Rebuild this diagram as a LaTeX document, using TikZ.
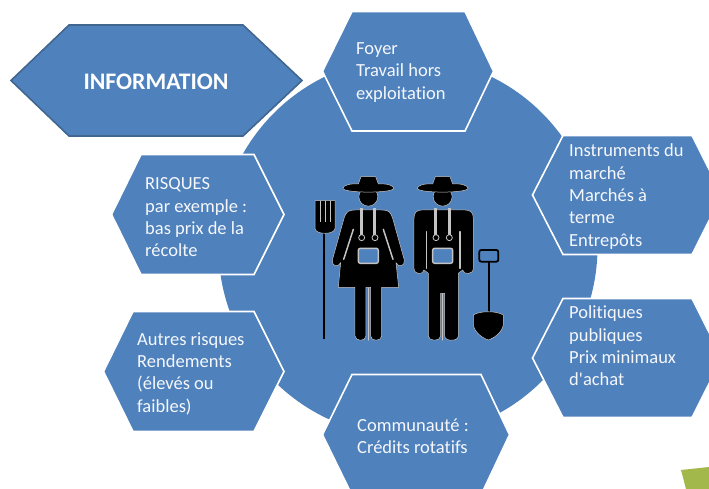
\documentclass[tikz,border=0pt]{standalone}
\usepackage{fontspec}
\setmainfont[Ligatures=NoCommon]{Carlito}
\definecolor{hexblue}{HTML}{4F81BD}
\definecolor{hexdark}{HTML}{41668F}
\definecolor{leafgreen}{HTML}{A3B84B}
\definecolor{halo}{HTML}{C4C4C4}
\tikzset{
	hexlabel/.style={anchor=west, align=left, inner sep=0pt, text=white!94!hexblue, font=\fontsize{18.5}{22.3}\selectfont},
	hexcut/.style={fill=hexblue, draw=white, line width=1.6pt, line join=miter},
	figure/.style={fill=black, draw=halo, line width=0.5pt, line join=round},
	slit/.style={draw=halo, line width=1.5pt, line cap=round}
}
\begin{document}
\begin{tikzpicture}[x=1pt, y=-1pt]

		\useasboundingbox (0,0) rectangle (709,489);
		\clip (0,0) rectangle (709,489);

		\fill[hexblue] (408,247) circle [radius=189.5pt];

		% left tip / inner left / inner right / right tip / top / bottom
		\foreach \a / \b / \c / \d / \t / \u in {322.5/352/465/493.5/11.5/131, 532.5/563/692/722/135.5/254.5, 532.5/563/692/722/298.5/417.5, 322.5/352/481/509.5/374.5/495, 111.5/141/254/284/154.5/274.5, 103.5/133/254/284/311.5/431.5} {
		\draw[hexcut] (\a,{(\t+\u)/2}) -- (\b,\t) -- (\c,\t) -- (\d,{(\t+\u)/2}) -- (\c,\u) -- (\b,\u) -- cycle;
		}

		\draw[fill=hexblue, draw=hexdark, line width=1.6pt] (11,80.5) -- (69,25) -- (243,25) -- (302,80.5) -- (243,136) -- (69,136) -- cycle;

		\node[text=white, font=\fontsize{23.7}{26}\bfseries] (information) at (156,82) {INFORMATION};
		\node[hexlabel] (foyer) at (356,72.5) {Foyer\\Travail hors\\exploitation};
		\node[hexlabel] (marche) at (569,196.5) {Instruments du\\marché\\Marchés à\\terme\\Entrepôts};
		\node[hexlabel] (politiques) at (569,346) {Politiques\\publiques\\Prix minimaux\\d\textquotesingle achat};
		\node[hexlabel] (communaute) at (357,436.5) {Communauté :\\Crédits rotatifs};
		\node[hexlabel] (risques) at (145,217.5) {RISQUES\\par exemple :\\bas prix de la\\récolte};
		\node[hexlabel] (autres) at (137,373.5) {Autres risques\\Rendements\\(élevés ou\\faibles)};

		\fill[leafgreen] (681,470) -- (709,467) -- (709,489) -- (686,489) -- cycle;

		\begin{scope}[shift={(300,160)}, x=0.3333pt, y=-0.3333pt]

		% hats and heads
		\foreach \x in {205,428} {
		\draw[figure] (\x,110) circle [radius=9.5pt];
		\draw[figure] (\x-30,72) -- (\x-22,50) -- (\x+22,50) -- (\x+30,72) .. controls (\x+55,70) and (\x+76,76) .. (\x+76,85) .. controls (\x+76,100) and (\x-76,100) .. (\x-76,85) .. controls (\x-76,76) and (\x-55,70) .. (\x-30,72) -- cycle;
		}

		% woman
		\draw[figure] (165,150) -- (245,150) .. controls (265,150) and (272,155) .. (278,175) -- (313,300) .. controls (316,318) and (296,325) .. (288,308) -- (296,382) -- (245,382) -- (245,528) .. controls (245,545) and (212,545) .. (212,528) -- (212,382) -- (198,382) -- (198,528) .. controls (198,545) and (165,545) .. (165,528) -- (165,382) -- (115,382) -- (122,308) .. controls (114,325) and (94,318) .. (97,300) -- (132,175) .. controls (138,155) and (145,150) .. (165,150) -- cycle;
		\draw[slit] (160,208) -- (131,298);
		\draw[slit] (250,208) -- (279,298);
		\draw[slit] (205,385) -- (205,540);

		% man
		\draw[figure] (365,150) -- (495,150) .. controls (512,150) and (520,158) .. (520,175) -- (520,325) .. controls (520,345) and (490,345) .. (488,330) -- (475,340) -- (475,528) .. controls (475,545) and (434,545) .. (434,528) -- (434,400) -- (422,400) -- (422,528) .. controls (422,545) and (385,545) .. (385,528) -- (385,340) -- (372,330) .. controls (370,345) and (342,345) .. (342,325) -- (342,175) .. controls (342,158) and (350,150) .. (365,150) -- cycle;
		\draw[slit] (379,215) -- (379,325);
		\draw[slit] (480,215) -- (480,325);
		\draw[slit] (428,402) -- (428,540);

		% bibs and straps
		\foreach \x / \y in {185/225, 408/448} {
		\draw[draw=halo, line width=3pt] (\x,145) -- (\x,225);
		\draw[draw=halo, line width=3pt] (\y,145) -- (\y,225);
		\draw[draw=halo, fill=black, line width=0.8pt] (\x,233) circle [radius=3pt];
		\draw[draw=halo, fill=black, line width=0.8pt] (\y,233) circle [radius=3pt];
		}
		\foreach \x in {205,428} {
		\draw[draw=halo, fill=hexblue, line width=1.4pt, rounded corners=2pt] (\x-30,265) rectangle (\x+30,310);
		}

		% fork
		\draw[black, line width=1.8pt] (72,215) -- (72,538);
		\draw[figure] (45,122) -- (105,122) -- (105,205) .. controls (105,225) and (45,225) .. (45,205) -- cycle;
		\foreach \x in {60,75,90} {
		\draw[draw=halo, line width=0.9pt] (\x,122) -- (\x,185);
		}

		% shovel
		\draw[black, line width=1.8pt] (566,305) -- (566,460);
		\draw[black, line width=1.8pt, rounded corners=2pt] (538,270) rectangle (595,305);
		\draw[figure] (520,465) .. controls (540,452) and (590,452) .. (610,465) -- (610,495) .. controls (605,520) and (580,535) .. (565,540) .. controls (550,535) and (525,520) .. (520,495) -- cycle;

		\end{scope}

\end{tikzpicture}
\end{document}
